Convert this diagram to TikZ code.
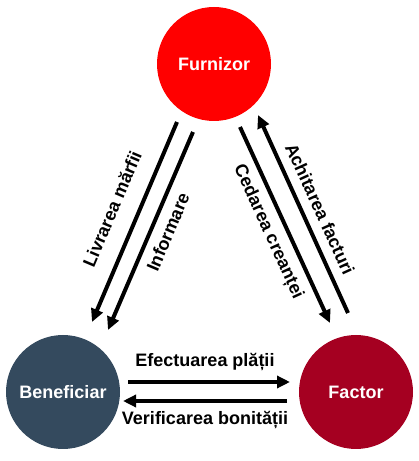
\documentclass[tikz,border=0pt]{standalone}
\usepackage{fontspec}
\setmainfont{Liberation Sans}
\usepackage{tikz}
\usetikzlibrary{arrows.meta}

\definecolor{furnred}{HTML}{FF0000}
\definecolor{benslate}{HTML}{344A5E}
\definecolor{factred}{HTML}{A50021}

\begin{document}
\begin{tikzpicture}[x=1pt, y=1pt, font=\bfseries\fontsize{18}{20}\selectfont,
  party/.style={circle, minimum size=114pt, inner sep=0pt, text=white},
  flow/.style={line width=4pt, -{Triangle[length=13pt, width=12pt]}}]
\useasboundingbox (0,0) rectangle (419,461);
% the three parties
\node[party, fill=furnred]  (furn) at (214,397) {Furnizor};
\node[party, fill=benslate] (ben)  at (63,69)   {Beneficiar};
\node[party, fill=factred]  (fact) at (356,69)  {Factor};
% arrow end points
\coordinate (livS) at (177,339); \coordinate (livE) at (92,139);
\coordinate (infS) at (193,329); \coordinate (infE) at (108,131);
\coordinate (cedS) at (240,334); \coordinate (cedE) at (330,138);
\coordinate (achS) at (348,148); \coordinate (achE) at (258,346);
\coordinate (efS)  at (128,79);  \coordinate (efE)  at (290,79);
\coordinate (verS) at (287,60);  \coordinate (verE) at (123,60);
% furnizor -> beneficiar
\draw[flow] (livS) -- (livE);
\draw[flow] (infS) -- (infE);
\node[rotate=67] (livL) at (112,252) {Livrarea mărfii};
\node[rotate=67] (infL) at (168,229) {Informare};
% furnizor <-> factor
\draw[flow] (cedS) -- (cedE);
\draw[flow] (achS) -- (achE);
\node[rotate=-65.5] (cedL) at (268,229) {Cedarea creanței};
\node[rotate=-65.5] (achL) at (320,252) {Achitarea facturi};
% beneficiar <-> factor
\draw[flow] (efS) -- (efE);
\draw[flow] (verS) -- (verE);
\node (efL)  at (205,99) {Efectuarea plății};
\node (verL) at (205,41) {Verificarea bonității};
\end{tikzpicture}
\end{document}
